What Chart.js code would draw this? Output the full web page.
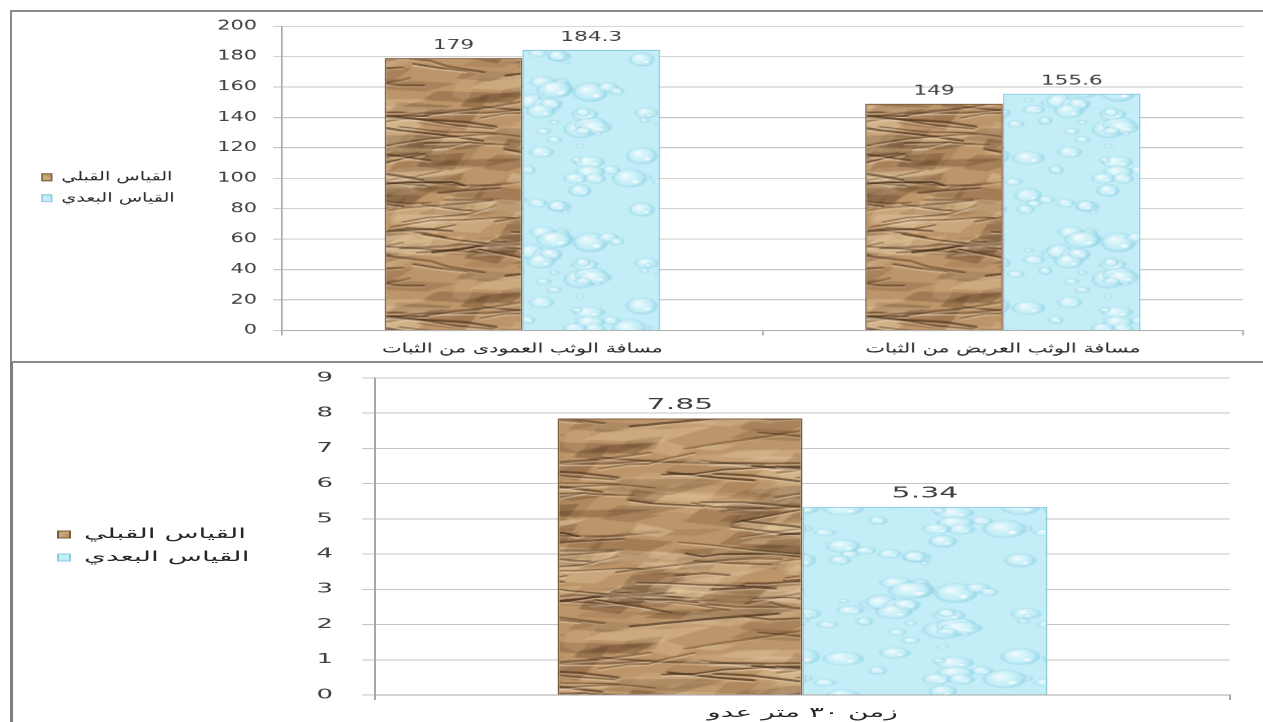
<!DOCTYPE html>
<html><head><meta charset="utf-8">
<script src="https://cdn.jsdelivr.net/npm/chart.js@4.4.0/dist/chart.umd.min.js"></script>
<style>
html,body{margin:0;padding:0;background:#fff;width:1263px;height:722px;overflow:hidden;}
.frame{position:absolute;overflow:hidden;background:#fff;}
#f1{left:10px;top:10px;width:1253px;height:349px;border-left:2px solid #8a8a8a;border-top:2px solid #8a8a8a;}
#f2{left:10px;top:361px;width:1253px;height:361px;border-left:3px solid #7f7f7f;border-top:2px solid #8a8a8a;}
.wrap{position:absolute;left:0;top:0;transform-origin:0 0;}
#w1{width:782px;height:348px;transform:scaleX(1.6);}
#w2{width:625px;height:358px;transform:scaleX(2);}
</style>
</head><body>
<div class="frame" id="f1"><div class="wrap" id="w1"><canvas id="c1"></canvas></div></div>
<div class="frame" id="f2"><div class="wrap" id="w2"><canvas id="c2"></canvas></div></div>
<script>
// ---------- data ----------
const seriesNames = ['القياس القبلي', 'القياس البعدي'];
const categoriesTop = ['مسافة الوثب العمودى من الثبات', 'مسافة الوثب العريض من الثبات'];
const preTop = [179, 149];
const postTop = [184.3, 155.6];
const yMaxTop = 200, yStepTop = 20;
const categoriesBottom = ['زمن ٣٠ متر عدو'];
const preBottom = [7.85];
const postBottom = [5.34];
const yMaxBottom = 9, yStepBottom = 1;

// ---------- textures (style only) ----------
function rng(seed){return function(){seed|=0;seed=seed+0x6D2B79F5|0;let t=Math.imul(seed^seed>>>15,1|seed);t=t+Math.imul(t^t>>>7,61|t)^t;return((t^t>>>14)>>>0)/4294967296;};}
function tiled(W,H,g,draw){for(const dx of [-W,0,W])for(const dy of [-H,0,H]){g.save();g.translate(dx,dy);draw();g.restore();}}
function paperTexture(){
  const W=150,H=200,c=document.createElement('canvas');c.width=W;c.height=H;
  const g=c.getContext('2d'),r=rng(11);
  g.fillStyle='#bd956a';g.fillRect(0,0,W,H);
  const facets=[];for(let i=0;i<120;i++){const x=r()*W,y=r()*H,w=12+r()*45,h=5+r()*16,dark=r()<0.5,a=0.14+r()*0.28,s1=(r()-0.5)*h*1.1,s2=r();facets.push([x,y,w,h,dark,a,s1,s2]);}
  const creases=[];for(let i=0;i<60;i++){let x=r()*W,y=r()*H;const pts=[[x,y]];const n=2+Math.floor(r()*3);const slope=(r()-0.5)*0.6;for(let k=0;k<n;k++){const dx=8+r()*22;x+=dx;y+=dx*slope+(r()-0.5)*6;pts.push([x,y]);}creases.push([pts,0.8+r()*1.6,0.35+r()*0.45,0.3+r()*0.35]);}
  tiled(W,H,g,()=>{
    for(const [x,y,w,h,dark,a,s1,s2] of facets){g.fillStyle=dark?`rgba(100,68,40,${a})`:`rgba(236,210,170,${a})`;g.beginPath();g.moveTo(x,y);g.lineTo(x+w,y+s1);g.lineTo(x+w*(0.4+s2*0.4),y+h);g.lineTo(x-w*0.2,y+h*0.7);g.closePath();g.fill();}
    for(const [pts,lw,a1,a2] of creases){
      g.lineWidth=lw;g.strokeStyle=`rgba(68,42,20,${a1})`;g.beginPath();pts.forEach((p,k)=>k?g.lineTo(p[0],p[1]):g.moveTo(p[0],p[1]));g.stroke();
      g.lineWidth=1.1;g.strokeStyle=`rgba(246,226,196,${a2})`;g.beginPath();pts.forEach((p,k)=>k?g.lineTo(p[0],p[1]+1.7):g.moveTo(p[0],p[1]+1.7));g.stroke();
    }
  });
  return c;
}
function dropsTexture(){
  const W=110,H=150,c=document.createElement('canvas');c.width=W;c.height=H;
  const g=c.getContext('2d'),r=rng(5);
  g.fillStyle='#c3eef7';g.fillRect(0,0,W,H);
  const drops=[];for(let i=0;i<55;i++){const rx=2+r()*9;drops.push([r()*W,r()*H,rx,rx*(0.55+r()*0.4)]);}
  tiled(W,H,g,()=>{
    for(const [x,y,rx,ry] of drops){
      const gr=g.createRadialGradient(x-rx*0.3,y-ry*0.35,0,x,y,rx*1.1);
      gr.addColorStop(0,'rgba(248,254,255,0.95)');gr.addColorStop(0.65,'rgba(195,238,248,0.6)');gr.addColorStop(1,'rgba(120,198,222,0.75)');
      g.fillStyle=gr;g.beginPath();g.ellipse(x,y,rx,ry,0,0,Math.PI*2);g.fill();
      g.lineWidth=0.6;g.strokeStyle='rgba(130,200,222,0.45)';g.stroke();
      g.fillStyle='rgba(255,255,255,0.9)';g.beginPath();g.ellipse(x+rx*0.35,y+ry*0.4,rx*0.18,ry*0.15,0,0,Math.PI*2);g.fill();
    }
  });
  return c;
}
const paperImg=paperTexture(), dropsImg=dropsTexture();

// ---------- plugins ----------
const valueLabels={id:'valueLabels',afterDatasetsDraw(chart,args,opts){
  const ctx=chart.ctx;ctx.save();ctx.font=opts.font;ctx.fillStyle=opts.color;ctx.textAlign='center';ctx.textBaseline='bottom';
  chart.data.datasets.forEach((ds,i)=>{chart.getDatasetMeta(i).data.forEach((el,j)=>{ctx.fillText(String(ds.data[j]),el.x,el.y-opts.offset);});});
  ctx.restore();}};
// nudges the legend block vertically (legend lives in its own layout box)
const legendShift={id:'legendShift',afterLayout(chart,args,opts){const l=chart.legend;if(l){l.top+=opts.dy;l.bottom+=opts.dy;}}};

Chart.defaults.font.family="'DejaVu Sans', sans-serif";
Chart.defaults.color='#404040';

function makeChart(id,cfg){
  const canvas=document.getElementById(id),ctx=canvas.getContext('2d');
  const brown=ctx.createPattern(paperImg,'repeat'),blue=ctx.createPattern(dropsImg,'repeat');
  return new Chart(ctx,{
    type:'bar',
    data:{labels:cfg.labels,datasets:[
      {label:seriesNames[0],data:cfg.pre,backgroundColor:brown,borderColor:'#7d5c3b',borderWidth:1,barPercentage:1,categoryPercentage:0.573},
      {label:seriesNames[1],data:cfg.post,backgroundColor:blue,borderColor:'#8dcadc',borderWidth:1,barPercentage:1,categoryPercentage:0.573}]},
    options:{
      responsive:true,maintainAspectRatio:false,animation:false,devicePixelRatio:cfg.dpr,events:[],
      layout:{padding:{left:cfg.padLeft,right:cfg.padRight,top:cfg.padTop,bottom:0}},
      plugins:{
        legend:{position:'left',labels:{boxWidth:6,boxHeight:7,padding:9,font:{size:cfg.legendSize},color:'#262626'}},
        legendShift:{dy:cfg.legendDy},
        tooltip:{enabled:false},
        valueLabels:{font:cfg.valueFont,color:'#404040',offset:cfg.valueOffset}
      },
      scales:{
        x:{grid:{drawOnChartArea:false,drawTicks:true,tickLength:5,color:'#a6a6a6'},border:{color:'#a6a6a6'},
           ticks:{padding:cfg.xPad,font:{size:cfg.xSize},color:'#262626'},
           afterFit:s=>{s.height=cfg.xHeight;}},
        y:{min:0,max:cfg.yMax,ticks:{stepSize:cfg.yStep,padding:cfg.yPad,font:{size:13},color:'#404040'},
           grid:{color:'#c4c4c4',tickLength:cfg.yTick},border:{color:'#a6a6a6'},
           afterFit:s=>{s.width=cfg.axisX-cfg.padLeft-s.chart.legend.width;s.paddingTop=0;s.paddingBottom=0;}}
      }
    },
    plugins:[valueLabels,legendShift]
  });
}

makeChart('c1',{labels:categoriesTop,pre:preTop,post:postTop,yMax:yMaxTop,yStep:yStepTop,dpr:1.6,
  padLeft:9.75,padRight:12.6,padTop:14,xHeight:30,xPad:6,xSize:13,legendSize:12,legendDy:-5.5,valueFont:"13.5px 'DejaVu Sans'",valueOffset:6,
  axisX:168.75,yPad:10,yTick:5.6});
makeChart('c2',{labels:categoriesBottom,pre:preBottom,post:postBottom,yMax:yMaxBottom,yStep:yStepBottom,dpr:2,
  padLeft:13.5,padRight:16.5,padTop:15,xHeight:26,xPad:5,xSize:14,legendSize:14,legendDy:-3.5,valueFont:"15px 'DejaVu Sans'",valueOffset:6,
  axisX:181,yPad:14.5,yTick:6.5});
</script>
</body></html>
